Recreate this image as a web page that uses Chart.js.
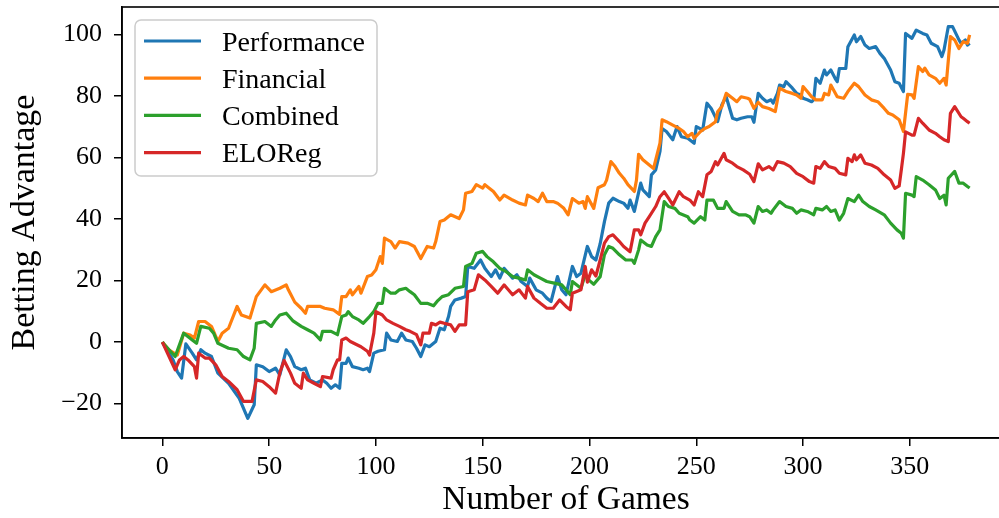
<!DOCTYPE html>
<html>
<head>
<meta charset="utf-8">
<script src="https://cdn.jsdelivr.net/npm/chart.js@4.4.0/dist/chart.umd.min.js"></script>
<style>
html, body { margin: 0; padding: 0; overflow: hidden; background: #fff; }
canvas { display: block; }
</style>
</head>
<body>
<canvas id="myChart" width="1020" height="518"></canvas>
<script>
var seriesNames = ['Performance', 'Financial', 'Combined', 'ELOReg'];
var seriesColors = ['#1f77b4', '#ff7f0e', '#2ca02c', '#d62728'];
var xTicks = [0, 50, 100, 150, 200, 250, 300, 350];
var yTicks = [-20, 0, 20, 40, 60, 80, 100];

// [game, betting advantage]
var performance = [[0,0],[5,-5.8],[7,-9.6],[9,-11.7],[11,-0.6],[14,-3.6],[16,-5.8],[18,-2.5],[20,-3.6],[23,-4.7],[26,-10.1],[31,-13.4],[36,-18.3],[40,-24.8],[43,-20.4],[44,-7.4],[47,-8],[50,-9.6],[53,-8.5],[55,-10.7],[58,-2.5],[60,-4.7],[62,-8],[65,-9],[67,-8.5],[69,-12.3],[72,-13.4],[75,-12.3],[77,-13.4],[79,-15],[81,-13.9],[83,-15],[84,-6.9],[86,-6.9],[87,-5.2],[89,-8],[92,-8.5],[94,-9],[96,-8.5],[97,-9.6],[99,-3.6],[101,-3],[104,-2.5],[105,2.9],[107,0.7],[110,0.2],[112,2.9],[114,0.7],[117,0.2],[119,-2],[121,-4.7],[123,-0.9],[125,-1.5],[128,0.2],[130,4.5],[132,4],[134,8.3],[135,11.6],[137,13.7],[140,14.3],[142,14.8],[143,24.6],[146,24],[149,26.7],[151,24],[154,21.3],[156,23.5],[158,20.8],[160,24],[164,20.8],[166,21.9],[168,19.7],[171,18.1],[172,20.8],[175,17],[178,15.9],[180,14.3],[182,13.2],[185,21.3],[187,17],[189,15.4],[192,24.6],[194,21.3],[196,22.4],[199,31.1],[201,27.8],[203,26.7],[205,32],[207,39.2],[209,45.2],[211,46.8],[214,45.7],[216,45.2],[218,43.5],[219,46.2],[221,42.5],[224,51.7],[225,49.5],[228,47.3],[229,54.4],[231,56],[233,62],[234,69.5],[236,68.5],[239,65.8],[241,70.1],[243,66.8],[246,66.3],[249,64.7],[250,70.1],[253,69],[255,77.7],[257,76],[260,71.7],[262,77.2],[264,79.8],[267,72.8],[269,72.3],[271,72.8],[274,73.3],[276,73.3],[277,71.5],[279,80.9],[281,79.3],[283,78.2],[285,78.8],[286,77.7],[288,80.9],[289,83.6],[291,83.1],[292,84.7],[295,82.6],[297,80.9],[299,80.4],[300,79.3],[302,78.8],[304,78.2],[305,78.8],[306,85.8],[308,84.2],[310,88.5],[311,86.9],[313,88.5],[315,85.8],[316,84.7],[317,89],[320,89],[321,96.1],[324,99.9],[325,97.7],[327,99.4],[329,96.6],[331,95.5],[334,96.1],[336,93.9],[338,92.3],[341,88.5],[343,84.7],[345,84.2],[347,81.5],[348,100.4],[351,98.8],[353,101.5],[356,100.4],[358,99.9],[360,97.2],[363,96.1],[365,92.9],[366,95],[368,102.6],[370,102.6],[373,98.3],[374,97.2],[376,98.3],[377,96.6],[378,97.2]];

var financial = [[0,0],[3,-2.5],[7,-4.2],[10,2.9],[13,2.3],[15,1.3],[17,6.7],[20,6.7],[23,5.1],[26,0.2],[28,2.9],[31,4.5],[35,11.6],[37,8.8],[41,7.8],[44,14.8],[48,18.6],[51,16.4],[55,17.5],[58,18.6],[59,17],[62,13],[65,11],[67,9.4],[68,11.6],[71,11.6],[74,11.6],[76,11],[80,10.5],[83,9],[84,14.8],[86,14.8],[88,17],[89,15.4],[92,18.1],[93,15.9],[96,21.3],[98,21.8],[100,23.5],[102,27.8],[103,25.6],[104,33.8],[107,32.7],[109,30.6],[111,32.7],[115,32.2],[118,31.1],[121,27.2],[124,31.1],[127,30.6],[128,32.7],[130,39.2],[132,39.7],[135,41.4],[139,40.2],[141,43],[142,48.4],[145,49],[147,51.2],[150,50.1],[151,51.2],[155,49],[158,46.2],[160,47.8],[164,46.2],[167,45.2],[170,44.6],[171,47.8],[174,46.7],[176,45.7],[178,48.4],[180,45.7],[183,45.7],[185,45.2],[188,43.5],[190,41.4],[192,46.7],[195,45.2],[197,45.7],[198,43.5],[199,47.3],[202,43.5],[204,50.2],[207,51.2],[208,52.7],[210,58.7],[212,57.1],[214,54.9],[216,53.3],[218,51.2],[221,49],[222,52.7],[223,61.1],[225,59.3],[228,57.6],[230,56.5],[231,59.3],[233,64.7],[234,72.3],[236,71.7],[239,70.6],[242,69.5],[244,68.5],[246,66.8],[248,67.9],[249,66.3],[252,68.5],[254,69.5],[256,70.1],[259,71.7],[260,74.9],[262,76.6],[264,80.9],[267,79.3],[269,78.2],[271,79.8],[274,79.3],[275,79],[277,76],[279,78],[281,76.6],[284,76],[287,75],[289,82.6],[292,81.5],[295,80.9],[297,80.4],[299,79.3],[300,83.1],[302,81.5],[304,79.8],[306,78.8],[309,78.8],[310,80.9],[312,80.4],[313,83.6],[316,79.8],[319,79.3],[321,81.5],[324,84.2],[326,83.1],[329,80.4],[332,78.8],[335,78.2],[338,76],[340,74.4],[342,73.9],[345,72.3],[347,68.5],[349,80.6],[351,80.4],[352,79.3],[354,89.6],[356,88],[357,89.1],[359,86.9],[362,85.8],[364,84.2],[366,85.8],[367,83.6],[369,99.4],[371,98.3],[373,95.5],[375,97.7],[377,97.2],[378,99.9]];

var combined = [[0,0],[1,-0.9],[6,-4.7],[10,2.9],[14,0.7],[16,-0.4],[18,5.1],[22,4.5],[24,2.9],[26,-0.4],[31,-2],[35,-2.5],[38,-4.7],[41,-5.8],[43,-2],[44,6.1],[48,6.7],[51,5.1],[53,7.2],[55,8.8],[58,9.4],[61,7],[65,5.1],[68,4],[71,2.9],[74,0.7],[75,3.5],[79,3.5],[82,2.4],[84,8.3],[86,8.8],[87,9.9],[89,8.3],[92,7.2],[94,6.1],[97,8.3],[99,9.9],[101,12.6],[103,12.6],[104,17.5],[107,15.9],[109,15.9],[111,17],[114,17.5],[116,16.4],[118,15.4],[121,12.6],[124,12.6],[127,11.8],[129,13.5],[131,14.8],[134,15.4],[137,17.5],[141,18.1],[142,24.6],[145,25.6],[147,28.9],[150,29.5],[152,27.8],[155,26.1],[158,24],[161,22.9],[164,21.3],[167,20.8],[170,20.2],[171,23.5],[174,21.9],[177,20.8],[180,19.7],[184,19.1],[187,18.6],[189,17],[191,15.4],[192,19.7],[196,17.5],[198,21.9],[200,20],[202,18.8],[205,21.3],[207,28.4],[209,31.1],[211,30.5],[214,28.4],[217,26.7],[220,26.7],[221,25.6],[223,30],[224,33.2],[227,31.6],[229,31.1],[231,34.3],[233,36.5],[235,45.7],[237,44.1],[240,43.5],[242,41.9],[246,40.8],[247,39.7],[249,38.7],[252,40.8],[254,39.7],[255,46.2],[258,46.2],[260,43.5],[263,43.5],[264,45.7],[267,42.5],[270,41.4],[273,41.4],[275,40.8],[277,38.7],[279,44.1],[281,42.5],[283,43],[285,41.9],[286,43],[289,45.7],[292,44.1],[295,43.5],[297,41.9],[299,43],[302,42.5],[305,41.4],[306,43.5],[309,43],[311,44.1],[313,42.5],[315,43],[317,39.7],[319,41.9],[321,46.7],[324,45.7],[326,47.8],[328,45.7],[331,44.1],[334,43],[338,41.4],[341,38.7],[344,36.5],[346,35.4],[347,33.8],[348,48.4],[351,47.8],[352,47.3],[353,53.8],[356,52.7],[359,51.2],[362,49.5],[364,46.7],[366,47.8],[367,44.6],[368,53.3],[371,55.5],[373,51.7],[375,51.7],[377,50.6],[378,50.1]];

var eloReg = [[0,0],[6,-9],[8,-5.8],[10,-4.7],[12,-5.8],[15,-8],[16,-11.7],[17,-3.6],[20,-5.2],[22,-5.2],[25,-7.4],[28,-11.2],[31,-12.8],[35,-15.5],[38,-19.3],[42,-19.3],[44,-12.3],[47,-12.8],[50,-14.5],[53,-16.6],[55,-10],[57,-6],[60,-10.1],[62,-13.4],[65,-15],[66,-10.1],[68,-12.3],[71,-13.4],[74,-14.5],[75,-11.2],[79,-11.7],[80,-9],[82,-5.8],[83,-5.8],[84,0.7],[86,1.3],[88,0.2],[93,-1.5],[96,-3],[97,-4.2],[99,2.9],[100,9.9],[103,8.8],[105,7.2],[108,6.1],[111,5.1],[114,4],[116,3.5],[119,2.4],[121,-0.9],[122,2.9],[125,2.9],[126,6.1],[128,5.6],[130,6.5],[132,6.1],[135,5.6],[137,3.5],[139,5.6],[142,5.6],[143,16.4],[146,17],[148,21.9],[151,20.2],[154,18.1],[157,15.9],[160,18.6],[162,17],[164,15.4],[167,17],[170,14.3],[171,18.1],[174,14.3],[177,12.6],[180,11],[183,11],[186,13.7],[189,11.6],[191,10.5],[192,15.9],[196,17],[198,24.6],[199,19.5],[201,23.5],[203,21.5],[205,26.7],[207,32.2],[209,34.3],[211,34.9],[214,32.7],[216,31.1],[219,29.4],[221,36.5],[223,36.5],[224,34.9],[226,38.7],[228,40.8],[231,44.1],[233,47.3],[235,48.9],[237,46.8],[239,44.6],[242,48.9],[244,47.3],[247,46.2],[249,44.6],[251,48.9],[253,47.3],[255,54.4],[257,55.5],[259,58.7],[260,57.6],[263,61.4],[264,59.3],[267,58.2],[269,57.1],[272,56],[275,54.6],[277,52.2],[279,58],[281,56],[284,57.1],[286,56],[288,58.7],[291,58.2],[294,57.1],[297,54.9],[300,53.8],[303,52.2],[305,51.7],[306,57.1],[308,56.5],[310,58.7],[312,57.1],[315,56.5],[317,54.9],[320,54.4],[321,59.8],[323,58.7],[324,60.9],[325,59.3],[327,60.9],[329,58.2],[332,57.6],[335,56.5],[338,54.4],[341,52.7],[343,50],[345,50.8],[346,56],[347,61.4],[348,68.4],[351,67.3],[352,67.3],[354,72.8],[356,71.2],[359,69],[362,67.9],[364,66.8],[366,65.8],[368,65.2],[369,74.4],[371,76.6],[374,73.3],[375,72.8],[377,71.7],[378,71.2]];

var seriesData = [performance, financial, combined, eloReg];
var serif = "'Liberation Serif', 'DejaVu Serif', serif";

function toPoints(arr) {
  return arr.map(function (p) { return { x: p[0], y: p[1] }; });
}

function fmt(v) {
  return v < 0 ? '\u2212' + Math.abs(v) : String(v);
}

// top/right spines like matplotlib
var frame = {
  id: 'frame',
  afterDatasetsDraw: function (chart) {
    var a = chart.chartArea, ctx = chart.ctx;
    ctx.save();
    ctx.strokeStyle = '#000';
    ctx.lineWidth = 1.6;
    ctx.strokeRect(a.left, a.top, a.right - a.left, a.bottom - a.top);
    ctx.restore();
  }
};

var legendBox = {
  id: 'legendBox',
  afterDraw: function (chart) {
    var ctx = chart.ctx;
    ctx.save();
    ctx.beginPath();
    ctx.roundRect(135, 20, 242, 156, 6);
    ctx.fillStyle = 'rgba(255,255,255,0.8)';
    ctx.fill();
    ctx.strokeStyle = '#cccccc';
    ctx.lineWidth = 1.5;
    ctx.stroke();
    chart.data.datasets.forEach(function (ds, i) {
      var rowY = 41 + i * 37.2;
      ctx.strokeStyle = ds.borderColor;
      ctx.lineWidth = 3.2;
      ctx.beginPath();
      ctx.moveTo(144, rowY);
      ctx.lineTo(201, rowY);
      ctx.stroke();
      ctx.fillStyle = '#000';
      ctx.font = '28px ' + serif;
      ctx.textBaseline = 'alphabetic';
      ctx.fillText(ds.label, 222, rowY + 9.5);
    });
    ctx.restore();
  }
};

new Chart('myChart', {
  type: 'line',
  data: {
    datasets: seriesNames.map(function (name, i) {
      return {
        label: name,
        data: toPoints(seriesData[i]),
        borderColor: seriesColors[i],
        backgroundColor: seriesColors[i],
        borderWidth: 3.2,
        borderJoinStyle: 'round',
        pointRadius: 0,
        tension: 0,
        fill: false,
        order: seriesNames.length - i
      };
    })
  },
  options: {
    responsive: false,
    animation: false,
    layout: { padding: { top: 7, right: 10, bottom: 0, left: 0 } },
    plugins: { legend: { display: false }, tooltip: { enabled: false } },
    scales: {
      x: {
        type: 'linear',
        min: -18.9,
        max: 396.9,
        afterFit: function (s) { s.height = 80; s.paddingLeft = 0; s.paddingRight = 0; },
        afterBuildTicks: function (s) { s.ticks = xTicks.map(function (v) { return { value: v }; }); },
        grid: { drawOnChartArea: false, drawTicks: true, tickLength: 8, color: '#000', lineWidth: 1.5 },
        border: { display: true, color: '#000', width: 1.6 },
        ticks: { color: '#000', font: { family: serif, size: 26 }, padding: 6, maxRotation: 0, callback: fmt },
        title: { display: true, text: 'Number of Games', color: '#000', font: { family: serif, size: 33.5, lineHeight: 1 }, padding: { top: 0, bottom: 1 } }
      },
      y: {
        min: -31.2,
        max: 109,
        afterFit: function (s) { s.width = 122; s.paddingTop = 0; s.paddingBottom = 0; },
        afterBuildTicks: function (s) { s.ticks = yTicks.map(function (v) { return { value: v }; }); },
        grid: { drawOnChartArea: false, drawTicks: true, tickLength: 8, color: '#000', lineWidth: 1.5 },
        border: { display: true, color: '#000', width: 1.6 },
        ticks: { color: '#000', font: { family: serif, size: 26 }, padding: 12, callback: fmt },
        title: { display: true, text: 'Betting Advantage', color: '#000', font: { family: serif, size: 34, lineHeight: 1 }, padding: { top: 8, bottom: 0 } }
      }
    }
  },
  plugins: [frame, legendBox]
});
</script>
</body>
</html>
